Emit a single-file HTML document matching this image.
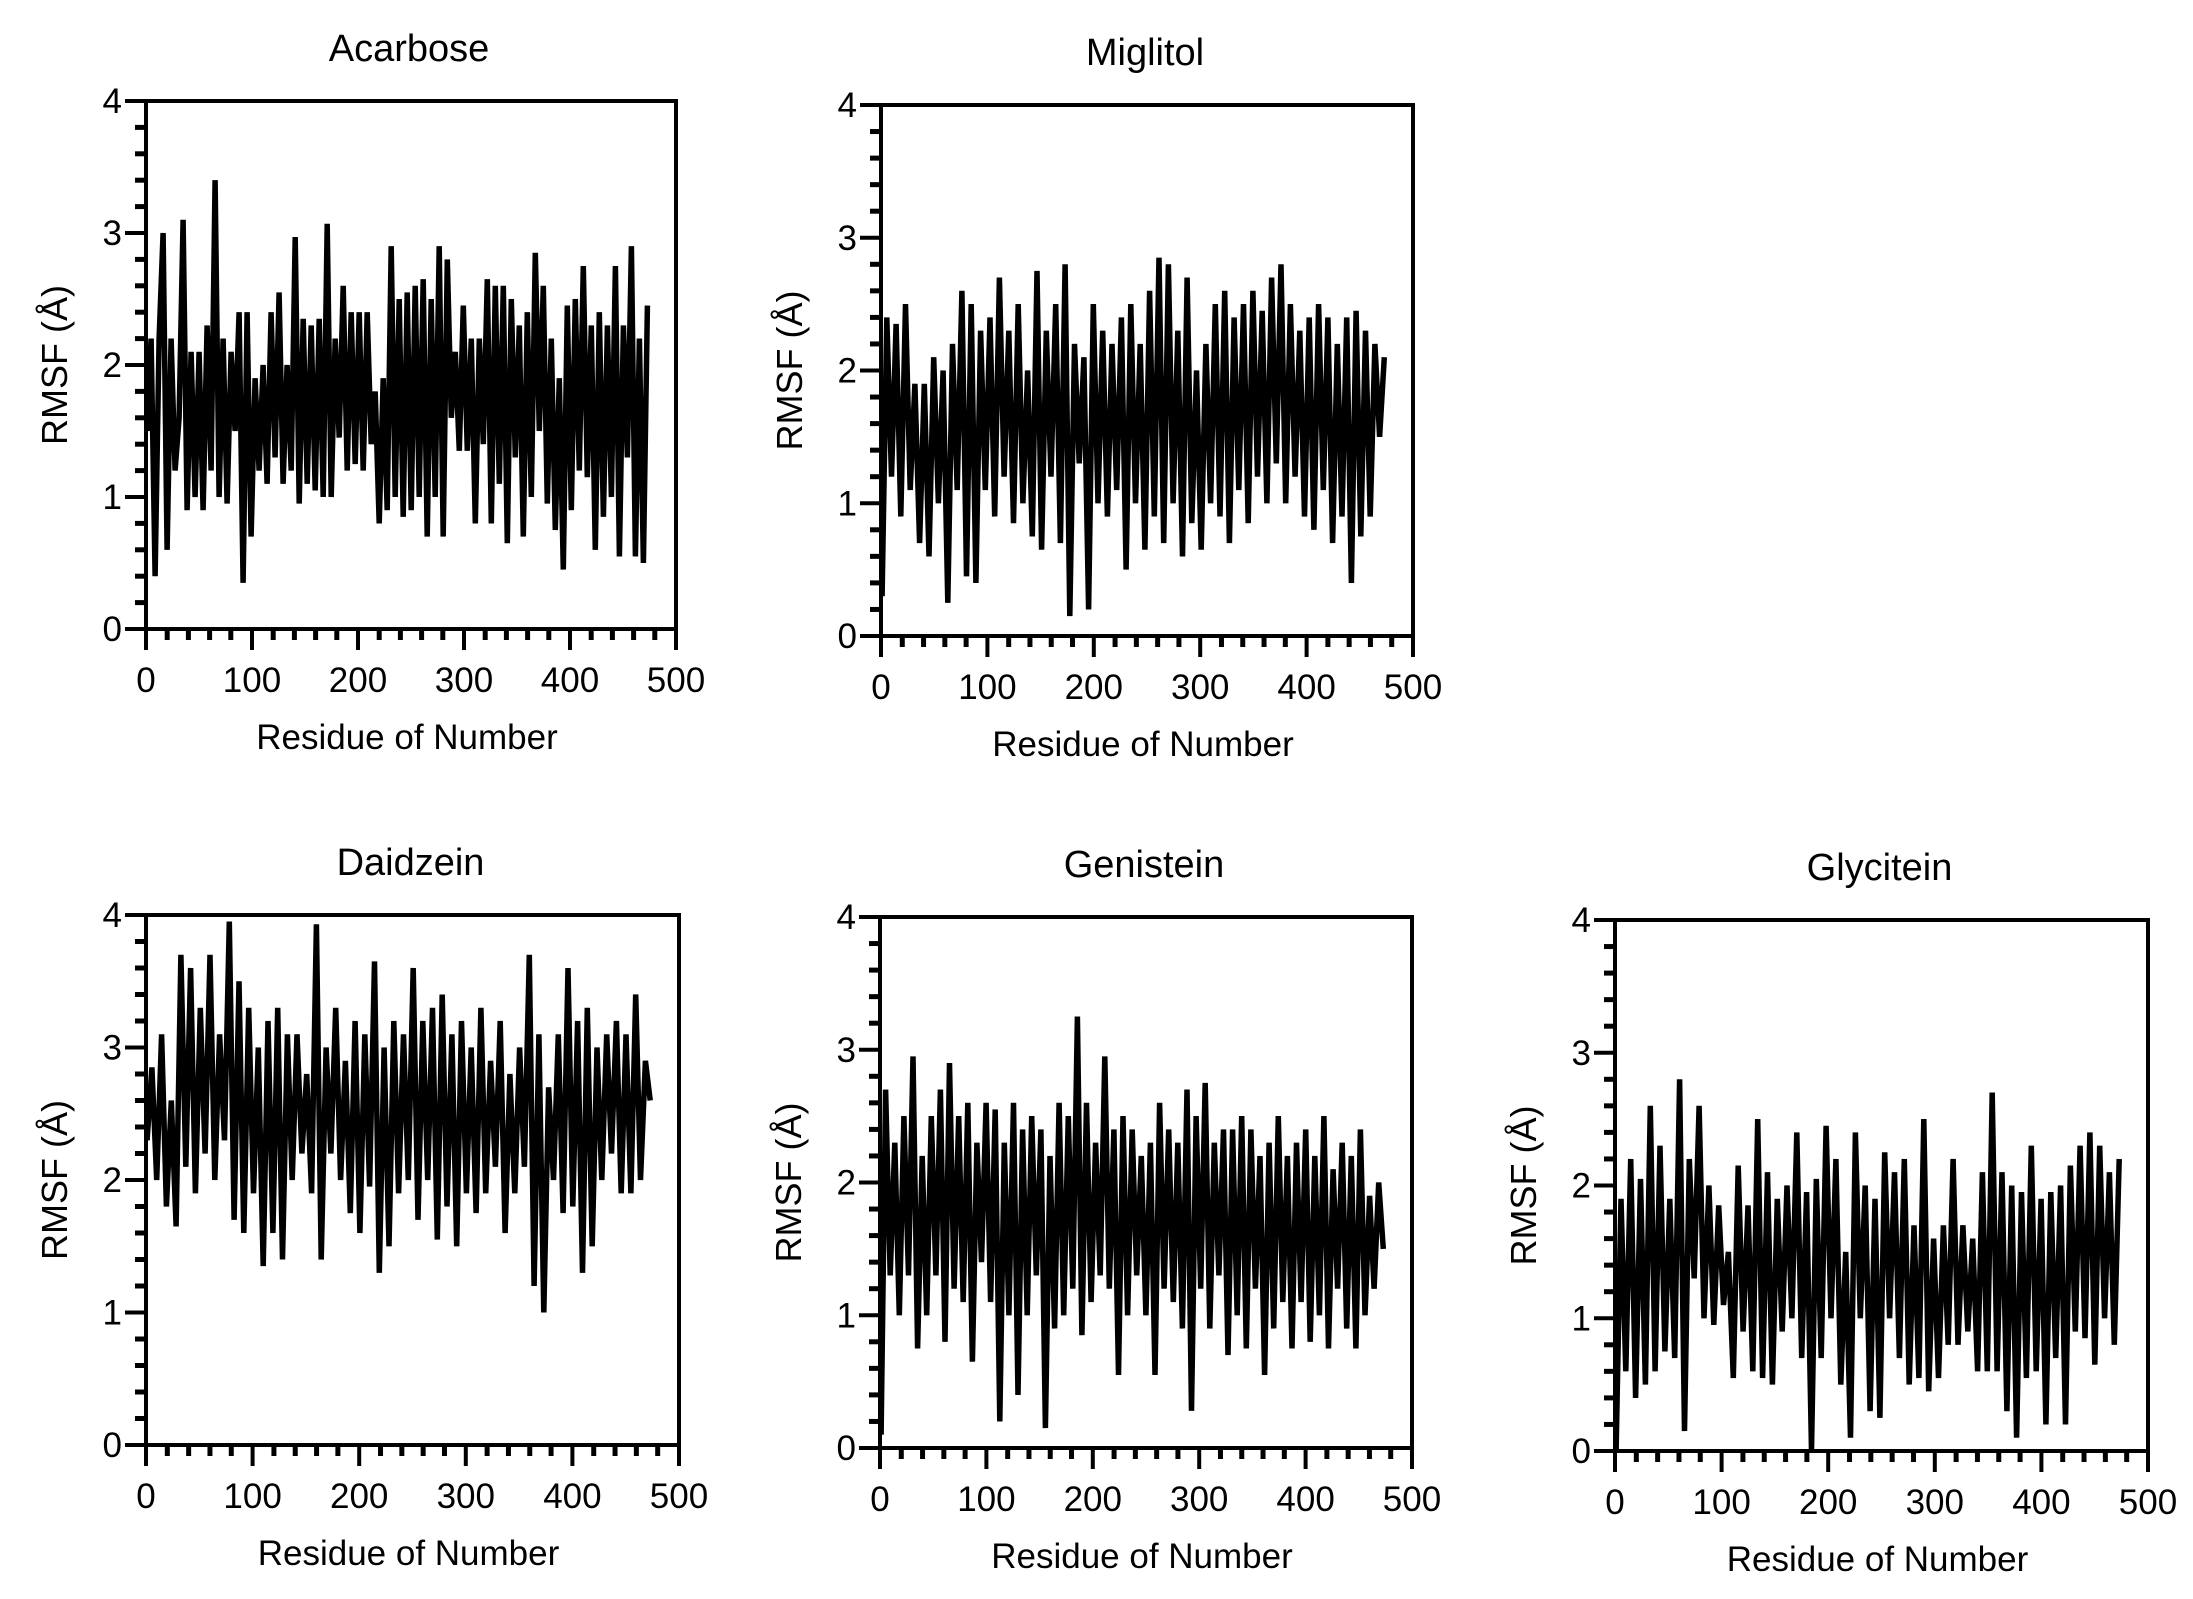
<!DOCTYPE html>
<html><head><meta charset="utf-8"><style>
html,body{margin:0;padding:0;background:#fff}
svg text{font-family:"Liberation Sans",Arial,sans-serif;fill:#000}
</style></head><body>
<svg id="fig" width="2193" height="1594" viewBox="0 0 2193 1594" xmlns="http://www.w3.org/2000/svg"></svg>
<script>
const xTicks=[0,100,200,300,400,500];
const yTicks=[0,1,2,3,4];
const titles=["Acarbose","Miglitol","Daidzein","Genistein","Glycitein"];
const firstResidue=1;
const lastResidue=473;
const acarbose=[1.5,2.2,0.4,2.2,3.0,0.6,2.2,1.2,1.6,3.1,0.9,2.1,1.0,2.1,0.9,2.3,1.2,3.4,1.0,2.2,0.95,2.1,1.5,2.4,0.35,2.4,0.7,1.9,1.2,2.0,1.1,2.4,1.3,2.55,1.1,2.0,1.2,2.97,0.95,2.35,1.1,2.3,1.05,2.35,1.0,3.07,1.0,2.2,1.45,2.6,1.2,2.4,1.25,2.4,1.2,2.4,1.4,1.8,0.8,1.9,0.9,2.9,1.0,2.5,0.85,2.55,0.9,2.6,1.0,2.65,0.7,2.5,1.0,2.9,0.7,2.8,1.6,2.1,1.35,2.45,1.35,2.2,0.8,2.2,1.4,2.65,0.8,2.6,1.1,2.6,0.65,2.5,1.3,2.3,0.7,2.4,1.0,2.85,1.5,2.6,0.95,2.2,0.75,1.9,0.45,2.45,0.9,2.5,1.2,2.75,1.15,2.3,0.6,2.4,0.85,2.3,1.0,2.75,0.55,2.3,1.3,2.9,0.55,2.2,0.5,2.45];
const miglitol=[0.3,2.4,1.2,2.35,0.9,2.5,1.1,1.9,0.7,1.9,0.6,2.1,1.0,2.0,0.25,2.2,1.1,2.6,0.45,2.5,0.4,2.3,1.1,2.4,0.9,2.7,1.2,2.3,0.85,2.5,1.0,2.0,0.75,2.75,0.65,2.3,1.2,2.5,0.7,2.8,0.15,2.2,1.3,2.1,0.2,2.5,1.0,2.3,0.9,2.2,1.1,2.4,0.5,2.5,1.0,2.2,0.65,2.6,0.9,2.85,0.7,2.8,1.0,2.3,0.6,2.7,0.85,2.0,0.65,2.2,1.0,2.5,0.9,2.6,0.7,2.4,1.1,2.5,0.85,2.6,1.2,2.45,1.0,2.7,1.3,2.8,1.0,2.5,1.2,2.3,0.9,2.4,0.8,2.5,1.1,2.4,0.7,2.2,0.9,2.4,0.4,2.45,0.75,2.3,0.9,2.2,1.5,2.1];
const daidzein=[2.3,2.85,2.0,3.1,1.8,2.6,1.65,3.7,2.1,3.6,1.9,3.3,2.2,3.7,2.0,3.1,2.3,3.95,1.7,3.5,1.6,3.3,1.9,3.0,1.35,3.2,1.6,3.3,1.4,3.1,2.0,3.1,2.2,2.8,1.9,3.93,1.4,3.0,2.2,3.3,2.0,2.9,1.75,3.2,1.6,3.1,1.95,3.65,1.3,3.0,1.5,3.2,1.9,3.1,2.0,3.6,1.7,3.2,2.0,3.3,1.55,3.4,1.8,3.1,1.5,3.2,1.9,3.0,1.75,3.3,1.9,2.9,2.1,3.2,1.6,2.8,1.9,3.0,2.1,3.7,1.2,3.1,1.0,2.7,2.0,3.1,1.75,3.6,1.8,3.2,1.3,3.3,1.5,3.0,2.0,3.1,2.2,3.2,1.9,3.1,1.9,3.4,2.0,2.9,2.6];
const genistein=[0.1,2.7,1.3,2.3,1.0,2.5,1.3,2.95,0.75,2.2,1.0,2.5,1.3,2.7,0.8,2.9,1.2,2.5,1.1,2.6,0.65,2.3,1.4,2.6,1.1,2.55,0.2,2.3,1.0,2.6,0.4,2.4,1.0,2.5,1.3,2.4,0.15,2.2,0.9,2.6,1.0,2.5,1.2,3.25,0.85,2.6,1.1,2.3,1.3,2.95,1.2,2.4,0.55,2.5,1.0,2.4,1.3,2.2,1.0,2.3,0.55,2.6,1.2,2.4,1.1,2.3,0.9,2.7,0.28,2.5,1.2,2.75,0.9,2.3,1.3,2.4,0.7,2.4,1.0,2.5,0.75,2.4,1.2,2.2,0.55,2.3,0.9,2.5,1.1,2.2,0.75,2.3,1.1,2.4,0.8,2.2,1.0,2.5,0.75,2.1,1.2,2.3,0.9,2.2,0.75,2.4,1.0,1.9,1.2,2.0,1.5];
const glycitein=[0.0,1.9,0.6,2.2,0.4,2.05,0.5,2.6,0.6,2.3,0.75,1.9,0.7,2.8,0.15,2.2,1.3,2.6,1.0,2.0,0.95,1.85,1.1,1.5,0.55,2.15,0.9,1.85,0.6,2.5,0.55,2.1,0.5,1.9,0.9,2.0,1.0,2.4,0.7,1.95,0.0,2.05,0.7,2.45,1.0,2.2,0.5,1.5,0.1,2.4,1.0,2.0,0.3,1.9,0.25,2.25,1.0,2.1,0.7,2.2,0.5,1.7,0.55,2.5,0.45,1.6,0.55,1.7,0.8,2.2,0.8,1.7,0.9,1.6,0.6,2.1,0.6,2.7,0.6,2.1,0.3,2.0,0.1,1.95,0.55,2.3,0.6,1.9,0.2,1.95,0.7,2.0,0.2,2.15,0.9,2.3,0.85,2.4,0.65,2.3,1.0,2.1,0.8,2.2];
const series=[acarbose,miglitol,daidzein,genistein,glycitein];
const layout=[
 {x0:146,x1:676,y0:629,y1:101},
 {x0:881,x1:1413,y0:636,y1:105},
 {x0:146,x1:679,y0:1445,y1:915},
 {x0:880,x1:1412,y0:1448,y1:917},
 {x0:1615,x1:2148,y0:1451,y1:920}
];
const NS="http://www.w3.org/2000/svg";
const svg=document.getElementById('fig');
function mk(tag,attrs,parent){const e=document.createElementNS(NS,tag);for(const k in attrs)e.setAttribute(k,attrs[k]);(parent||svg).appendChild(e);return e;}
series.forEach((data,p)=>{
 const L=layout[p];
 const sx=v=>L.x0+(v-0)/500*(L.x1-L.x0);
 const sy=v=>L.y0-(v/4)*(L.y0-L.y1);
 const g=mk('g',{});
 
 
 const n=data.length;
 let d='';
 data.forEach((v,i)=>{const r=firstResidue+i*(lastResidue-firstResidue)/(n-1);const x=sx(r),y=sy(v);d+=(i?'L':'M')+x.toFixed(1)+' '+y.toFixed(1);});
 const path=mk('path',{d:d,fill:'none',stroke:'#000','stroke-width':5.5,'stroke-linejoin':'miter','stroke-miterlimit':10},g);
 
 
 const fr=mk('path',{d:`M${L.x0} ${L.y1}H${L.x1}V${L.y0}H${L.x0}Z`,fill:'none',stroke:'#000','stroke-width':4},g);
 
 
 for(let v=0;v<=500;v+=20){
  const major=v%100===0;
  mk('line',{x1:sx(v),x2:sx(v),y1:L.y0,y2:L.y0+(major?21:11),stroke:'#000','stroke-width':major?4:5},g);
 }
 xTicks.forEach(v=>{
  const t=mk('text',{x:sx(v),y:L.y0+63,'text-anchor':'middle','font-size':35},g);
  t.textContent=v;
  
  
 });
 for(let k=0;k<=20;k++){
  const v=k*0.2;const major=k%5===0;
  mk('line',{x1:L.x0,x2:L.x0-(major?21:11),y1:sy(v),y2:sy(v),stroke:'#000','stroke-width':major?4:5},g);
 }
 yTicks.forEach(v=>{
  const t=mk('text',{x:L.x0-24,y:sy(v)+12,'text-anchor':'end','font-size':35},g);
  t.textContent=v;
  
  
 });
 const cx=(L.x0+L.x1)/2, cy=(L.y0+L.y1)/2;
 const tt=mk('text',{x:cx-2,y:L.y1-40,'text-anchor':'middle','font-size':38},g);
 tt.textContent=titles[p];
 
 
 const xt=mk('text',{x:cx-4,y:L.y0+120,'text-anchor':'middle','font-size':35},g);
 xt.textContent='Residue of Number';
 
 
 const yt=mk('text',{x:0,y:0,'text-anchor':'middle','font-size':36,transform:`translate(${L.x0-79},${cy}) rotate(-90)`},g);
 yt.textContent='RMSF (Å)';
 
 
});
</script>
</body></html>
